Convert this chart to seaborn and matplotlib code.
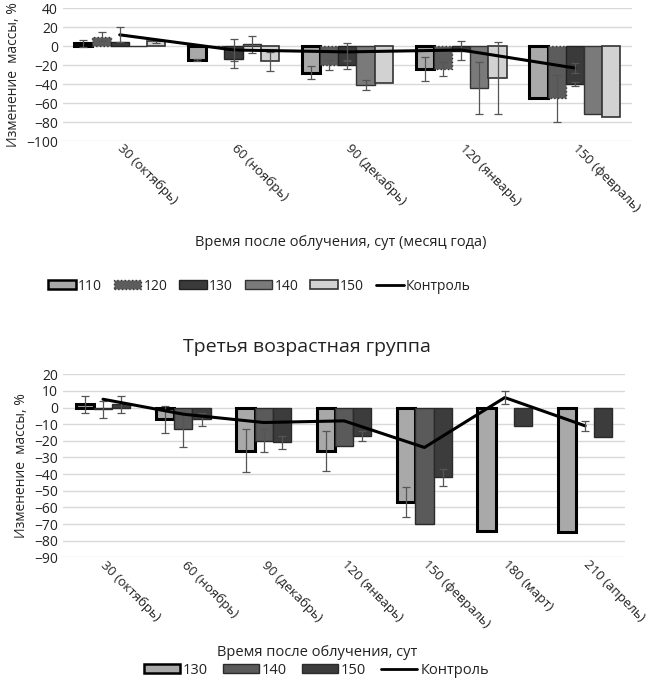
import numpy as np
import pandas as pd
import matplotlib
matplotlib.use("Agg")
import matplotlib.pyplot as plt
import seaborn as sns
from matplotlib.patches import Patch
from matplotlib.lines import Line2D

# ---- data: top chart (second age group) ----
top_days = ['30 (октябрь)', '60 (ноябрь)', '90 (декабрь)', '120 (январь)', '150 (февраль)']
top_doses = ['110', '120', '130', '140', '150']
top_vals = {
    '110': [3, -15, -28, -24, -55],
    '120': [10, 0, -20, -24, -55],
    '130': [4, -14, -20, -5, -40],
    '140': [0.5, 2, -41, -44, -71],
    '150': [5, -16, -39, -34, -75],
}
top_errs = {
    '110': [4, 1, 7, 13, 0],
    '120': [5, 0, 5, 7, 25],
    '130': [0, 9, 4, 10, 2],
    '140': [0, 9, 5, 27, 0],
    '150': [2, 10, 0, 38, 0],
}
top_control = [12, -4, -6, -4, -23]
top_control_err = [8, 12, 9, 0, 5]

# ---- data: bottom chart (third age group) ----
bot_days = ['30 (октябрь)', '60 (ноябрь)', '90 (декабрь)', '120 (январь)',
            '150 (февраль)', '180 (март)', '210 (апрель)']
bot_doses = ['130', '140', '150']
bot_vals = {
    '130': [2, -7, -26, -26, -57, -74, -75],
    '140': [-1, -13, -20, -23, -70, np.nan, np.nan],
    '150': [2, -7, -21, -17, -42, -11, -18],
}
bot_errs = {
    '130': [5, 8, 13, 12, 9, 0, 0],
    '140': [5, 11, 7, 0, 0, 0, 0],
    '150': [5, 4, 4, 3, 5, 0, 0],
}
bot_control = [5, -4, -9, -8, -24, 6, -11]
bot_control_err = [0, 0, 0, 0, 0, 4, 3]

top_colors = {'110': '#a9a9a9', '120': '#5c5c5c', '130': '#3a3a3a', '140': '#7a7a7a', '150': '#d2d2d2'}
top_edges = {'110': ('black', 2.2, '-'), '120': ('#333333', 1.0, ':'), '130': ('#222222', 1.0, '-'),
             '140': ('#333333', 1.0, '-'), '150': ('#333333', 1.2, '-')}
bot_colors = {'130': '#a9a9a9', '140': '#5a5a5a', '150': '#3c3c3c'}
bot_edges = {'130': ('black', 2.2, '-'), '140': ('#2a2a2a', 1.0, '-'), '150': ('#2a2a2a', 1.0, '-')}

sns.set_style('white')
plt.rcParams['font.family'] = ['Open Sans', 'DejaVu Sans']
plt.rcParams['text.color'] = '#222222'


def draw_panel(ax, days, doses, vals, errs, control, control_err, colors, edges, width, ylim, step):
    rows = []
    for d in doses:
        for i, day in enumerate(days):
            rows.append({'day': day, 'dose': d, 'value': vals[d][i], 'err': errs[d][i]})
    df = pd.DataFrame(rows)
    sns.barplot(data=df, x='day', y='value', hue='dose', order=days, hue_order=doses,
                palette=colors, errorbar=None, width=width, legend=False, ax=ax, zorder=3)
    for cont, d in zip(ax.containers, doses):
        ec, lw, ls = edges[d]
        for bar in cont:
            bar.set_edgecolor(ec)
            bar.set_linewidth(lw)
            bar.set_linestyle(ls)
            i = int(round(bar.get_x() + bar.get_width() / 2))
            e = errs[d][i]
            if e and not np.isnan(bar.get_height()):
                ax.errorbar(bar.get_x() + bar.get_width() / 2, bar.get_height(), yerr=e,
                            fmt='none', ecolor='#555555', elinewidth=0.9, capsize=3,
                            capthick=0.9, zorder=4)
    x = np.arange(len(days))
    sns.lineplot(x=x, y=control, color='black', linewidth=2.2, ax=ax, zorder=5)
    ce = np.array(control_err, dtype=float)
    m = ce > 0
    ax.errorbar(x[m], np.array(control)[m], yerr=ce[m], fmt='none', ecolor='#555555',
                elinewidth=0.9, capsize=3, capthick=0.9, zorder=6)
    ax.set_ylim(*ylim)
    ax.set_xlim(-0.5, len(days) - 0.5)
    ax.set_yticks(np.arange(ylim[0], ylim[1] + 1, step))
    ax.yaxis.grid(True, color='#d9d9d9', linewidth=1)
    ax.set_axisbelow(True)
    for s in ax.spines.values():
        s.set_visible(False)
    ax.tick_params(axis='both', length=0, labelsize=10, colors='#222222')
    ax.tick_params(axis='x', labelsize=9.5, pad=4)
    ax.set_xticks(x)
    ax.set_xticklabels(days, rotation=-45, ha='left', va='center', rotation_mode='anchor')
    ax.set_xlabel('')
    ax.set_ylabel('Изменение  массы, %', fontsize=10, labelpad=4)


fig = plt.figure(figsize=(6.48, 6.88), dpi=100)
ax1 = fig.add_axes([0.097, 0.795, 0.878, 0.193])
ax2 = fig.add_axes([0.097, 0.19, 0.868, 0.266])

draw_panel(ax1, top_days, top_doses, top_vals, top_errs, top_control, top_control_err,
           top_colors, top_edges, 0.8, (-100, 40), 20)
draw_panel(ax2, bot_days, bot_doses, bot_vals, bot_errs, bot_control, bot_control_err,
           bot_colors, bot_edges, 0.68, (-90, 20), 10)

fig.text(0.526, 1 - 242 / 688, 'Время после облучения, сут (месяц года)', ha='center', va='center', fontsize=10.5)
fig.text(0.474, 1 - 347 / 688, 'Третья возрастная группа', ha='center', va='center', fontsize=14)
fig.text(0.49, 1 - 652 / 688, 'Время после облучения, сут', ha='center', va='center', fontsize=10.5)


def handles_for(doses, colors, edges):
    hs = []
    for d in doses:
        ec, lw, ls = edges[d]
        hs.append(Patch(facecolor=colors[d], edgecolor=ec, linewidth=min(lw, 1.8), linestyle=ls, label=d))
    hs.append(Line2D([0], [0], color='black', linewidth=2, label='Контроль'))
    return hs


fig.legend(handles=handles_for(top_doses, top_colors, top_edges), loc='center',
           bbox_to_anchor=(0.40, 1 - 286 / 688), ncol=6, frameon=False, fontsize=10,
           handlelength=2.0, handleheight=0.55, handletextpad=0.15, columnspacing=0.85,
           borderpad=0.2)
fig.legend(handles=handles_for(bot_doses, bot_colors, bot_edges), loc='center',
           bbox_to_anchor=(0.488, 1 - 670 / 688), ncol=4, frameon=False, fontsize=10.5,
           handlelength=2.5, handleheight=0.55, handletextpad=0.2, columnspacing=1.0,
           borderpad=0.2)

fig.savefig('out.png', dpi=100)
